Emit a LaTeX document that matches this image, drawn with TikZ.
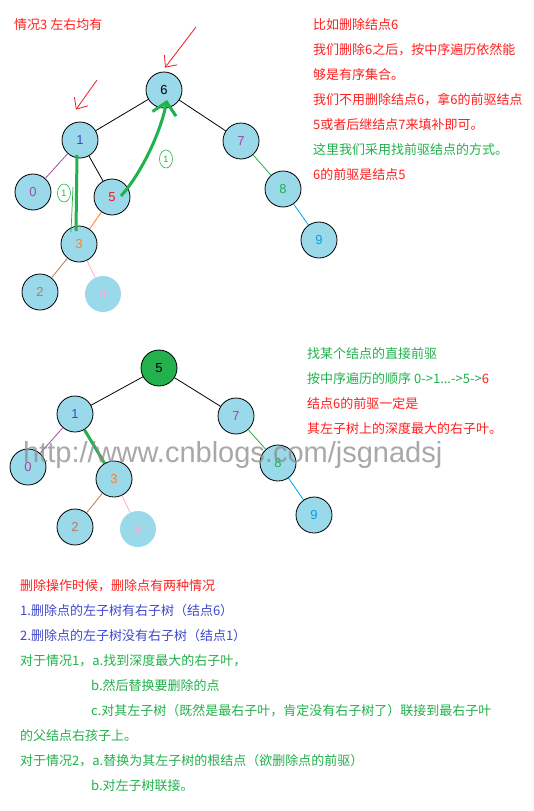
\documentclass[tikz,border=0pt]{standalone}
\usepackage{fontspec}
\setmainfont{Liberation Sans}
\newfontfamily\cjk{Noto Sans CJK SC}
\usetikzlibrary{arrows.meta,positioning,shapes.geometric}
\definecolor{nodefill}{HTML}{99D9EA}
\definecolor{cgreen}{HTML}{22B14C}
\definecolor{cred}{HTML}{ED1C24}
\definecolor{tred}{HTML}{FF2020}
\definecolor{cblue}{HTML}{3F48CC}
\definecolor{cpurple}{HTML}{A349A4}
\definecolor{corange}{HTML}{FF7F27}
\definecolor{cbrown}{HTML}{B97A57}
\definecolor{cpink}{HTML}{FFAEC9}
\definecolor{csky}{HTML}{00A2E8}
\begin{document}
\begin{tikzpicture}[x=1pt, y=-1pt,
  vtx/.style={circle, draw=black, line width=0.8pt, fill=nodefill, minimum size=36pt,
              inner sep=0pt, font=\fontsize{13}{13}\selectfont},
  leaf/.style={vtx, draw=none},
  txt/.style={font=\cjk\fontsize{13}{15}\selectfont, inner sep=0pt, anchor=west,
              text height=11.4pt, text depth=1.6pt},
  edge/.style={line width=0.8pt},
  thk/.style={draw=cgreen, line width=3pt},
  redar/.style={-{Straight Barb[length=9pt,width=16pt]}, draw=cred, line width=0.8pt},
  grar/.style={-{Straight Barb[length=12pt,width=24pt]}, draw=cgreen, line width=3pt},
  circmark/.style={ellipse, draw=cgreen, line width=0.6pt, inner sep=0pt, minimum width=13pt,
                   minimum height=18pt, text=cgreen, font=\fontsize{9}{9}\selectfont},
]
  \fill[white] (0,0) rectangle (533,811);
  \useasboundingbox (0,0) rectangle (533,811);

  % first tree
  \node[vtx] (a6) at (164,90) {6};
  \node[vtx, text=cblue] (a1) at (80,140) {1};
  \node[vtx, text=cpurple] (a7) at (241,141) {7};
  \node[vtx, text=cpurple] (a0) at (33,192) {0};
  \node[vtx, text=cred] (a5) at (112,197) {5};
  \node[vtx, text=corange] (a3) at (79,244) {3};
  \node[vtx, text=cbrown] (a2) at (40,292) {2};
  \node[leaf, text=cpink] (a4) at (103,294) {4};
  \node[vtx, text=cgreen] (a8) at (283,189) {8};
  \node[vtx, text=csky] (a9) at (319,240) {9};

  \draw[edge] (a6) -- (a1);
  \draw[edge] (a6) -- (a7);
  \draw[edge, cpurple] (a1) -- (a0);
  \draw[edge] (a1) -- (a5);
  \draw[edge, corange] (a5) -- (a3);
  \draw[edge, cbrown] (a3) -- (a2);
  \draw[edge, cpink] (a3) -- (a4);
  \draw[edge, cgreen] (a7) -- (a8);
  \draw[edge, csky] (a8) -- (a9);

  \draw[thk] ([shift={(-3,-13)}]a3.center) -- ([shift={(-3,15)}]a1.center);
  \draw[cgreen, line width=0.7pt] ([shift={(-8,-12)}]a3.center) -- ([shift={(-7,47)}]a1.center);
  \node[circmark] (m1) at (64,193) {1};
  \draw[grar] ([shift={(9,-1)}]a5.center) .. controls (140,175) and (160,135) .. ([shift={(3,10)}]a6.center);
  \node[circmark] (m2) at (166,159) {1};

  \coordinate (r6) at (196,27);
  \coordinate (r1) at (97,80);
  \draw[redar] (r6) .. controls (180,48) .. ([shift={(1,-4)}]a6.north);
  \draw[redar] (r1) .. controls (86,94) .. ([shift={(-4,-12)}]a1.north);

  \node[txt, text=tred] (h0) at (14,25) {情况3 左右均有};

  \node[txt, text=tred] (p1) at (313,25) {比如删除结点6};
  \node[txt, text=tred, below=25pt of p1.west, anchor=west] (p2) {我们删除6之后，按中序遍历依然能};
  \node[txt, text=tred, below=25pt of p2.west, anchor=west] (p3) {够是有序集合。};
  \node[txt, text=tred, below=25pt of p3.west, anchor=west] (p4) {我们不用删除结点6，拿6的前驱结点};
  \node[txt, text=tred, below=25pt of p4.west, anchor=west] (p5) {5或者后继结点7来填补即可。};
  \node[txt, text=cgreen, below=25pt of p5.west, anchor=west] (p6) {这里我们采用找前驱结点的方式。};
  \node[txt, text=tred, below=25pt of p6.west, anchor=west] (p7) {6的前驱是结点5};

  % second tree
  \node[vtx, fill=cgreen] (b5) at (159,368) {5};
  \node[vtx, text=cblue] (b1) at (75,414) {1};
  \node[vtx, text=cpurple] (b7) at (236,416) {7};
  \node[vtx, text=cpurple] (b0) at (28,467) {0};
  \node[vtx, text=corange] (b3) at (114,479) {3};
  \node[vtx, text=cbrown] (b2) at (75,527) {2};
  \node[leaf, text=cpink] (b4) at (138,529) {4};
  \node[vtx, text=cgreen] (b8) at (278,463) {8};
  \node[vtx, text=csky] (b9) at (314,515) {9};

  \draw[edge] (b5) -- (b1);
  \draw[edge] (b5) -- (b7);
  \draw[edge, cpurple] (b1) -- (b0);
  \draw[thk] (b1) -- (b3);
  \draw[edge, cbrown] (b3) -- (b2);
  \draw[edge, cpink] (b3) -- (b4);
  \draw[edge, cgreen] (b7) -- (b8);
  \draw[edge, csky] (b8) -- (b9);

  \node[txt, text=cgreen] (q1) at (307,354) {找某个结点的直接前驱};
  \node[txt, text=cgreen, below=25pt of q1.west, anchor=west] (q2) {按中序遍历的顺序 0->1...->5->\textcolor{tred}{6}};
  \node[txt, text=tred, below=25pt of q2.west, anchor=west] (q3) {结点6的前驱一定是};
  \node[txt, text=tred, below=25pt of q3.west, anchor=west] (q4) {其左子树上的深度最大的右子叶。};

  \node[text=black!45, opacity=0.75, anchor=base west, inner sep=0pt,
        font=\fontsize{29}{29}\selectfont] (wm) at (23,462) {http://www.cnblogs.com/jsgnadsj};

  % notes
  \node[txt, text=tred] (s1) at (20,586) {删除操作时候，删除点有两种情况};
  \node[txt, text=cblue, below=25pt of s1.west, anchor=west] (s2) {1.删除点的左子树有右子树（结点6）};
  \node[txt, text=cblue, below=25pt of s2.west, anchor=west] (s3) {2.删除点的左子树没有右子树（结点1）};
  \node[txt, text=cgreen, below=25pt of s3.west, anchor=west] (s4) {对于情况1，a.找到深度最大的右子叶，};
  \node[txt, text=cgreen, below right=25pt and 71pt of s4.west, anchor=west] (s5) {b.然后替换要删除的点};
  \node[txt, text=cgreen, below=25pt of s5.west, anchor=west] (s6) {c.对其左子树（既然是最右子叶，肯定没有右子树了）联接到最右子叶};
  \node[txt, text=cgreen, below left=25pt and 71pt of s6.west, anchor=west] (s7) {的父结点右孩子上。};
  \node[txt, text=cgreen, below=25pt of s7.west, anchor=west] (s8) {对于情况2，a.替换为其左子树的根结点（欲删除点的前驱）};
  \node[txt, text=cgreen, below right=25pt and 71pt of s8.west, anchor=west] (s9) {b.对左子树联接。};
\end{tikzpicture}
\end{document}
